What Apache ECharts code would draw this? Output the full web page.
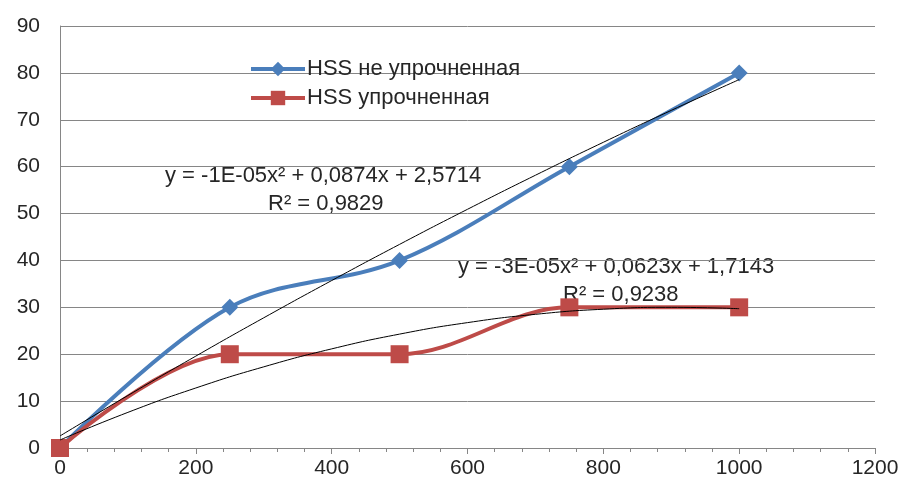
<!DOCTYPE html>
<html>
<head>
<meta charset="utf-8">
<script src="https://cdn.jsdelivr.net/npm/echarts@6/dist/echarts.min.js"></script>
<style>
  html, body { margin: 0; padding: 0; background: #fff; }
  #chart { width: 904px; height: 491px; }
</style>
</head>
<body>
<div id="chart"></div>
<script>
var chart = echarts.init(document.getElementById('chart'));

// load values (x) and the two measured series
var xs = [0, 250, 500, 750, 1000];
var hardNot = [0, 30, 40, 60, 80];
var hard = [0, 20, 20, 30, 30];

// polynomial trendlines
var trendX = [0, 100, 200, 300, 400, 500, 600, 700, 800, 900, 1000];
var trendNot = [2.57, 11.2, 19.6, 27.77, 35.71, 43.43, 50.91, 58.17, 65.2, 72.0, 78.57];
var trendHard = [1.71, 7.6, 12.8, 17.31, 21.14, 24.29, 26.74, 28.51, 29.6, 30.0, 29.71];

var names = ['HSS не упрочненная', 'HSS упрочненная'];
var eq1 = ['y = -1E-05x² + 0,0874x + 2,5714', 'R² = 0,9829'];
var eq2 = ['y = -3E-05x² + 0,0623x + 1,7143', 'R² = 0,9238'];

function pairs(a, b) {
    return a.map(function (v, i) { return [v, b[i]]; });
}

var font = 'Liberation Sans';
var txt = '#262626';

option = {
    animation: false,
    textStyle: { fontFamily: font },
    grid: { left: 60, right: 29, top: 26, bottom: 43 },
    legend: {
        orient: 'vertical',
        left: 244,
        top: 53,
        itemWidth: 54,
        itemHeight: 18,
        itemGap: 7,
        lineStyle: { width: 4 },
        textStyle: { fontSize: 22, color: txt, fontFamily: font, padding: [0, 0, 0, -3] },
        data: [names[0], names[1]]
    },
    xAxis: {
        type: 'value',
        min: 0,
        max: 1200,
        interval: 200,
        axisLine: { lineStyle: { color: '#868686' } },
        axisTick: { show: true, length: 6, lineStyle: { color: '#868686' } },
        minorTick: { show: true, splitNumber: 5, length: 4, lineStyle: { color: '#868686' } },
        splitLine: { show: false },
        axisLabel: {
            fontSize: 21, color: txt, margin: 10,
            formatter: function (v) { return String(v); }
        }
    },
    yAxis: {
        type: 'value',
        min: 0,
        max: 90,
        interval: 10,
        axisLine: { show: true, lineStyle: { color: '#868686' } },
        axisTick: { show: false },
        splitLine: { lineStyle: { color: '#868686' } },
        axisLabel: { fontSize: 21, color: txt, margin: 20 }
    },
    series: [
        {
            name: 'trend1',
            type: 'line',
            data: pairs(trendX, trendNot),
            smooth: true,
            symbol: 'none',
            lineStyle: { color: '#000', width: 1 },
            z: 3
        },
        {
            name: 'trend2',
            type: 'line',
            data: pairs(trendX, trendHard),
            smooth: true,
            symbol: 'none',
            lineStyle: { color: '#000', width: 1 },
            z: 3
        },
        {
            name: names[0],
            type: 'line',
            data: pairs(xs, hardNot),
            smooth: 0.35,
            symbol: 'diamond',
            symbolSize: 17,
            itemStyle: { color: '#4a7ebb' },
            lineStyle: { color: '#4a7ebb', width: 4 },
            z: 2
        },
        {
            name: names[1],
            type: 'line',
            data: pairs(xs, hard),
            smooth: 0.35,
            symbol: 'rect',
            symbolSize: 18,
            itemStyle: { color: '#be4b48' },
            lineStyle: { color: '#be4b48', width: 4 },
            z: 2
        }
    ],
    graphic: [
        { type: 'text', left: 165, top: 165, style: { text: eq1[0], fontSize: 22, fill: txt, fontFamily: font } },
        { type: 'text', left: 268, top: 193, style: { text: eq1[1], fontSize: 22, fill: txt, fontFamily: font } },
        { type: 'text', left: 458, top: 256, style: { text: eq2[0], fontSize: 22, fill: txt, fontFamily: font } },
        { type: 'text', left: 563, top: 284, style: { text: eq2[1], fontSize: 22, fill: txt, fontFamily: font } }
    ]
};

chart.setOption(option);
</script>
</body>
</html>
